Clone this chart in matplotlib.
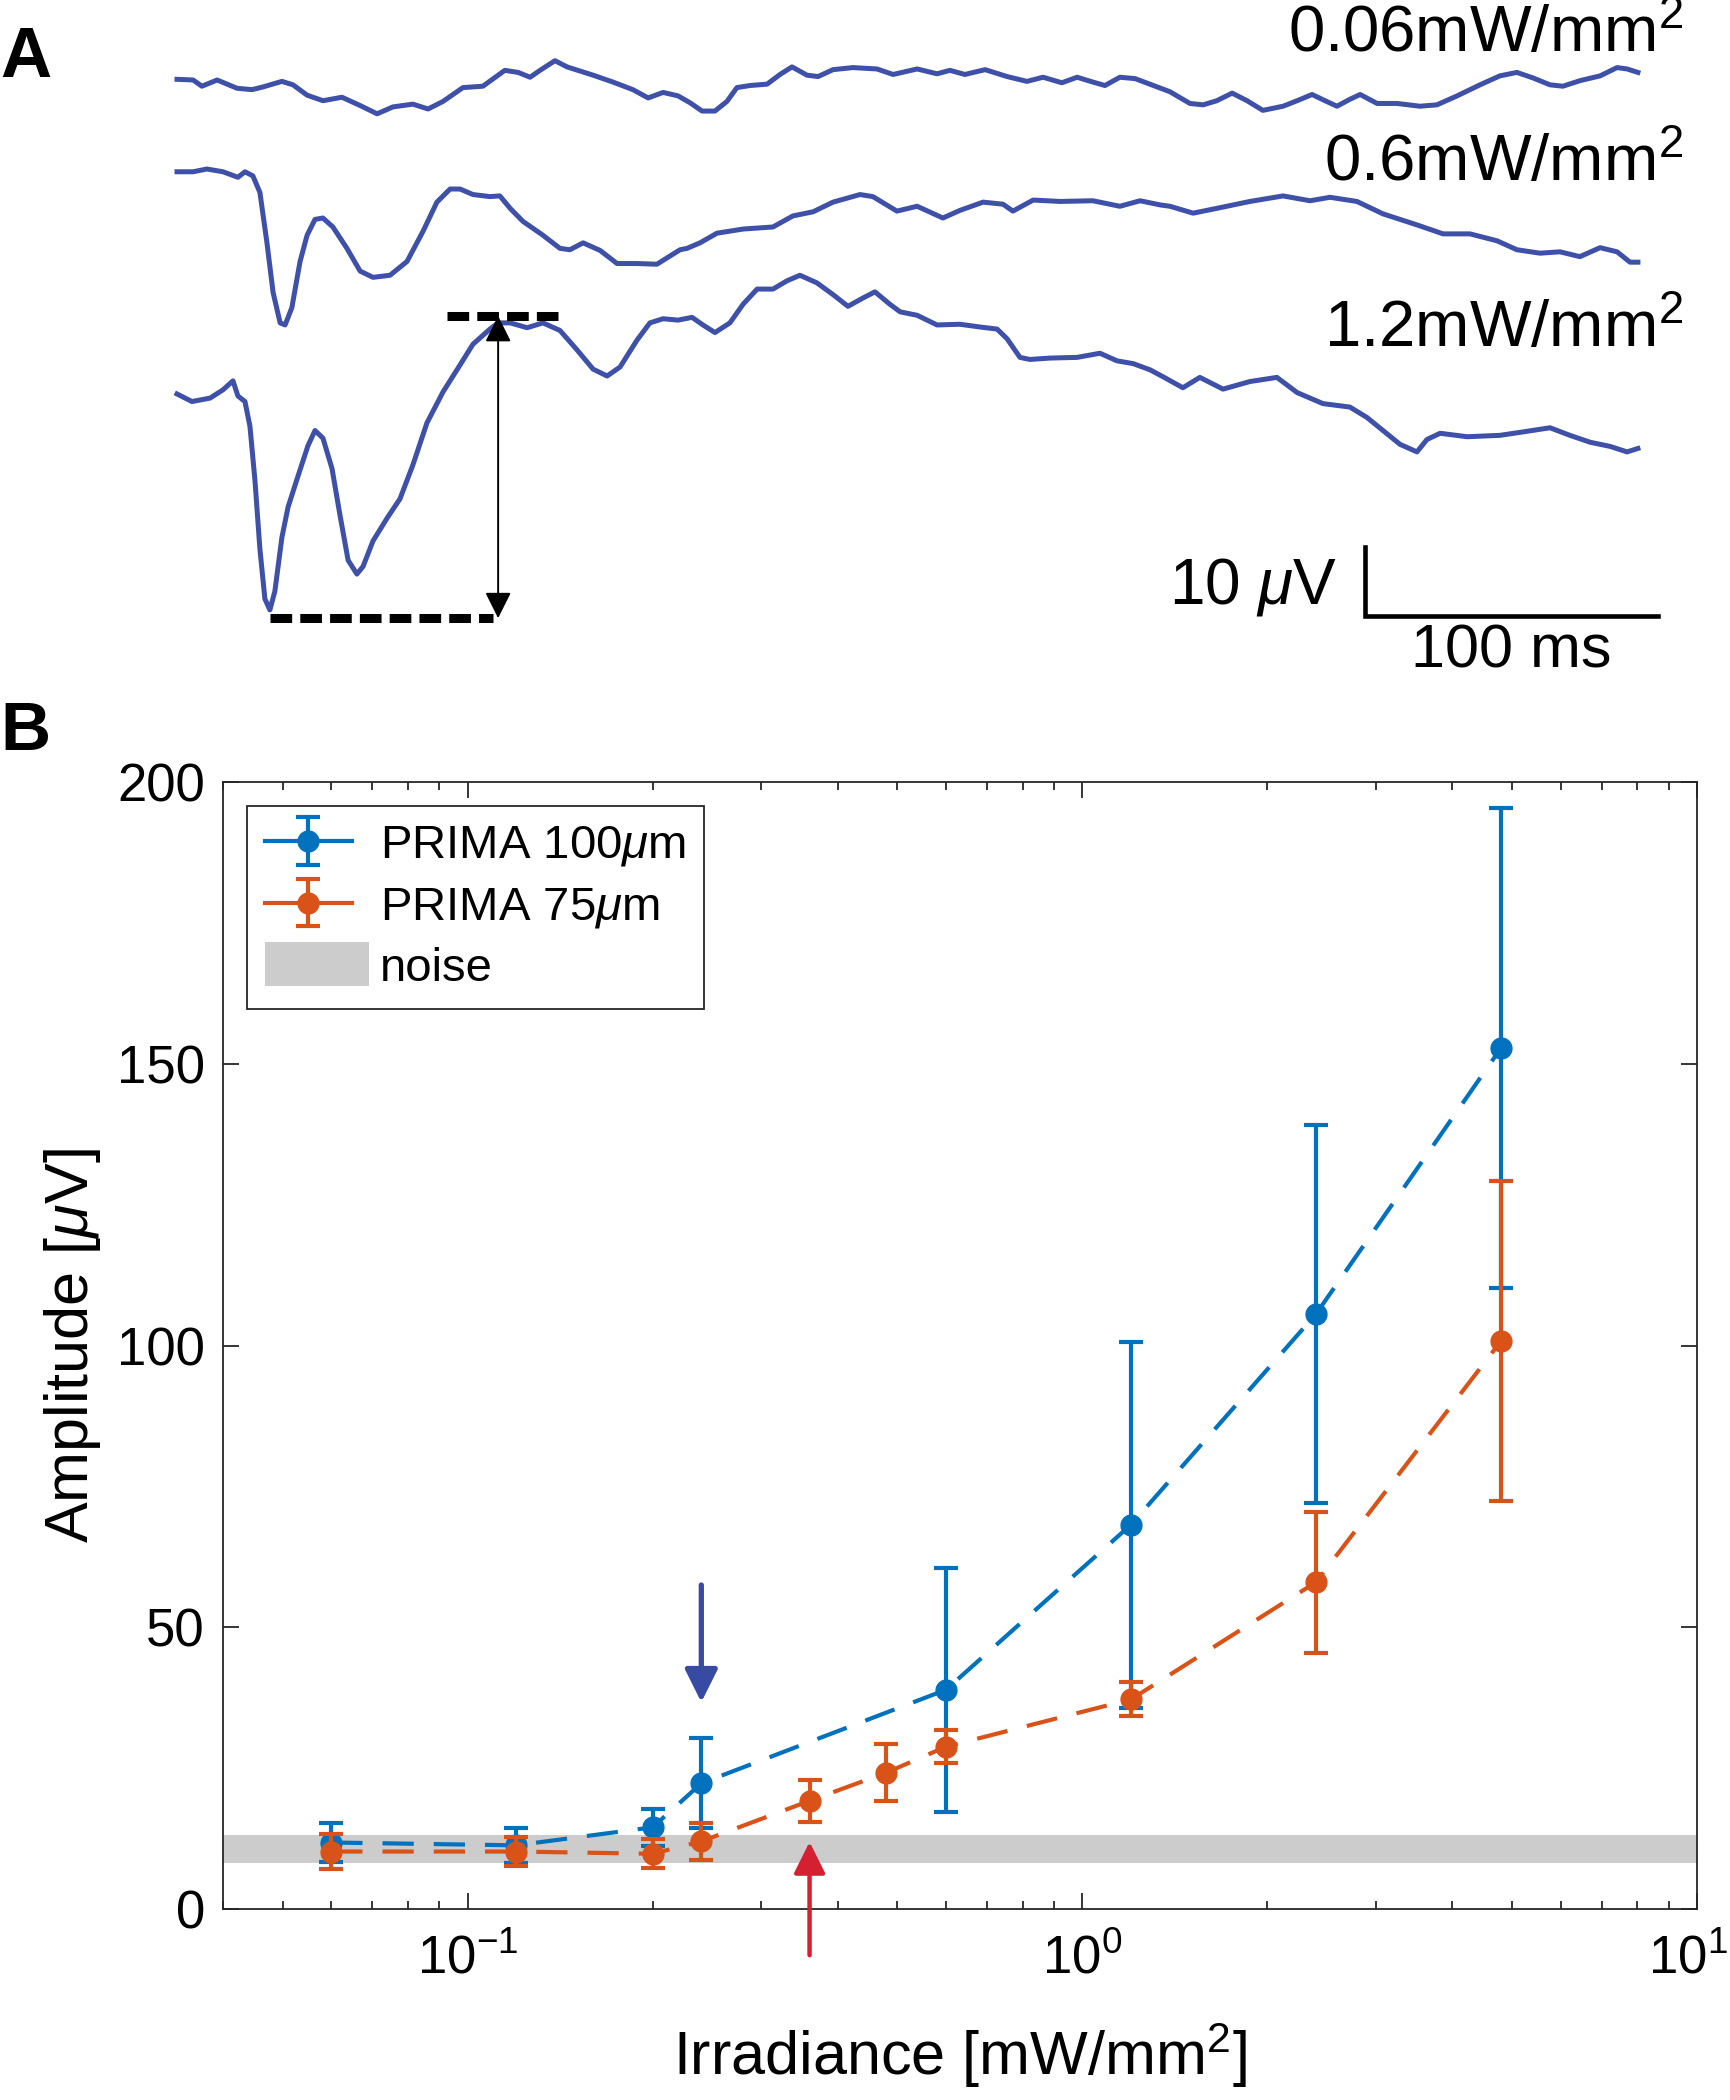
import numpy as np
import matplotlib
matplotlib.use("Agg")
import matplotlib.pyplot as plt
import matplotlib.transforms as mtransforms
from matplotlib.lines import Line2D
from matplotlib.patches import Rectangle
from matplotlib.container import ErrorbarContainer
from matplotlib.legend_handler import HandlerErrorbar, HandlerPatch

plt.rcParams['font.family'] = ['Liberation Sans', 'DejaVu Sans']
plt.rcParams['mathtext.fontset'] = 'custom'
plt.rcParams['mathtext.rm'] = 'Liberation Sans'
plt.rcParams['mathtext.it'] = 'Liberation Sans:italic'
plt.rcParams['mathtext.bf'] = 'Liberation Sans:bold'

# ---------------------------------------------------------
# Panel A - example traces: time [ms], amplitude [uV] (relative to trace start)
# ---------------------------------------------------------
t1 = [0, 5.5, 8.5, 13.7, 20.5, 25.6, 29.4, 35.8, 39.6, 44.4, 49.8, 56.3, 62.5, 68.3,
      73.7, 80.5, 85.7, 90.8, 97.6, 104.4, 111.9, 116.4, 120.5, 123.9, 129.0, 133.1,
      142.0, 148.8, 155.6, 160.8, 165.9, 171.0, 175.1, 179.2, 183.6, 187.7, 191.1,
      195.6, 201.4, 205.8, 209.9, 215.0, 218.8, 223.9, 230.7, 238.9, 244.4, 252.6,
      259.4, 263.8, 268.9, 275.8, 283.3, 290.1, 295.6, 302.0, 307.2, 312.6, 316.7,
      321.8, 327.0, 334.5, 338.9, 345.7, 350.2, 354.9, 360.1, 365.2, 370.6, 377.5,
      382.3, 387.4, 391.8, 395.9, 400.3, 403.8, 409.6, 416.4, 424.2, 430.0, 436.9,
      444.7, 451.5, 457.3, 462.8, 468.6, 473.0, 478.8, 485.7, 491.5, 494.9, 498.6]
v1 = [0.1, 0.0, -0.9, 0.0, -1.2, -1.4, -1.0, -0.2, -0.7, -2.2, -3.0, -2.5, -3.7, -4.9,
      -3.9, -3.5, -4.2, -3.1, -1.1, -0.9, 1.4, 1.1, 0.4, 1.4, 2.8, 1.9,
      0.7, -0.3, -1.4, -2.6, -1.8, -2.3, -3.3, -4.5, -4.5, -3.1, -1.1,
      -0.8, -0.6, 0.8, 1.9, 0.7, 0.5, 1.5, 1.8, 1.6, 0.8, 1.6,
      0.9, 1.4, 0.8, 1.5, 0.5, -0.2, 0.4, -0.4, 0.4, -0.3, -0.8,
      0.4, 0.2, -1.0, -1.7, -3.4, -3.6, -3.0, -1.9, -3.0, -4.4, -3.8,
      -3.0, -2.1, -3.0, -3.8, -2.8, -2.1, -3.4, -3.4, -3.8, -3.6, -2.3,
      -0.7, 0.6, 1.1, 0.3, -0.7, -0.9, -0.1, 0.6, 1.8, 1.6, 1.1]

t2 = [0, 5.5, 10.2, 15.7, 20.8, 23.2, 25.9, 28.3, 30.7, 32.8, 35.2, 36.9, 39.2, 42.0,
      44.4, 47.1, 49.8, 53.2, 58.0, 62.5, 66.9, 72.7, 78.5, 84.0, 88.7, 93.2, 96.6,
      101.0, 106.8, 110.2, 113.7, 118.1, 124.9, 130.7, 134.1, 138.6, 144.4, 150.2,
      157.0, 163.8, 168.3, 171.7, 174.1, 178.5, 184.3, 193.2, 203.4, 210.2, 217.1,
      223.9, 233.1, 237.5, 245.7, 252.6, 261.4, 267.2, 275.1, 281.9, 285.3, 292.2,
      301.4, 312.6, 321.8, 328.7, 335.5, 338.9, 346.8, 354.9, 366.2, 377.5, 386.7,
      393.5, 402.7, 411.6, 423.2, 432.1, 441.3, 450.5, 457.3, 465.2, 472.0, 478.8,
      485.7, 491.5, 495.9, 498.6]
v2 = [0, 0, 0.4, 0, -0.8, 0, -0.6, -3.0, -10.3, -17.5, -21.9, -22.2, -19.7, -13.0,
      -9.2, -6.9, -6.7, -8.0, -11.1, -14.4, -15.3, -15.0, -13.0, -8.6, -4.4, -2.5, -2.5,
      -3.3, -3.6, -3.5, -5.3, -7.2, -9.2, -11.1, -11.3, -10.3, -11.4, -13.3,
      -13.3, -13.4, -12.2, -11.3, -11.1, -10.3, -8.9, -8.3, -8.0, -6.4, -5.8,
      -4.4, -3.3, -3.6, -5.7, -5.0, -6.7, -5.6, -4.4, -4.7, -5.7, -4.1,
      -4.3, -4.2, -5.0, -4.2, -4.8, -5.0, -6.0, -5.3, -4.3, -3.5, -4.2,
      -3.7, -4.3, -6.1, -7.7, -9.0, -9.0, -10.0, -11.3, -11.8, -11.6, -12.3,
      -11.0, -11.6, -13.1, -13.1]

t3 = [0, 5.1, 11.3, 15.7, 19.1, 20.8, 23.2, 24.9, 26.6, 28.3, 30.0, 31.7, 33.4, 35.8,
      37.9, 41.3, 44.7, 47.1, 49.8, 52.9, 55.6, 58.4, 61.4, 63.5, 66.9, 71.7, 76.1,
      80.5, 85.3, 90.8, 96.6, 101.0, 106.8, 109.6, 113.7, 119.5, 124.9, 130.7, 136.5,
      142.0, 146.8, 151.2, 157.0, 161.4, 165.9, 171.0, 175.8, 179.5, 183.6, 188.7,
      193.2, 198.0, 203.4, 208.2, 212.6, 218.4, 223.9, 229.0, 234.1, 238.2, 243.3,
      246.8, 252.6, 259.4, 267.2, 274.1, 279.9, 283.3, 287.7, 291.1, 298.0, 307.2,
      315.0, 320.8, 326.3, 332.1, 336.5, 343.3, 349.1, 357.0, 366.2, 375.4, 382.3,
      391.1, 400.3, 406.1, 411.6, 417.4, 423.2, 426.6, 431.1, 440.3, 451.5, 459.4,
      468.6, 475.4, 482.3, 489.1, 494.9, 498.6]
v3 = [0, -1.1, -0.6, 0.6, 1.9, -0.3, -1.1, -4.7, -12.5, -22.5, -29.7, -31.3, -28.6, -20.8,
      -16.4, -11.9, -7.5, -5.3, -6.4, -10.8, -17.5, -24.1, -26.1, -25.0, -21.3, -18.0, -15.2,
      -10.3, -4.2, 0.3, 4.2, 7.2, 9.4, 10.3, 10.3, 9.6, 10.3, 9.2, 6.4,
      3.6, 2.6, 3.9, 7.8, 10.3, 10.9, 10.7, 11.1, 10.0, 8.9, 10.3,
      13.0, 15.2, 15.2, 16.4, 17.2, 16.1, 14.4, 12.7, 13.9, 14.8, 13.0,
      11.9, 11.4, 10.0, 10.1, 9.7, 9.4, 8.0, 5.3, 5.0, 5.2, 5.3,
      5.9, 4.8, 4.4, 3.5, 2.5, 0.9, 2.4, 0.7, 1.8, 2.4, 0.2,
      -1.4, -1.9, -3.4, -5.3, -7.3, -8.4, -6.6, -5.7, -6.2, -6.0, -5.5,
      -4.9, -6.0, -7.0, -7.6, -8.4, -7.9]

trace_labels = ['0.06mW/mm$^2$', '0.6mW/mm$^2$', '1.2mW/mm$^2$']
trace_offsets = [0.0, -13.3, -45.5]       # vertical stacking [uV]
label_y = [4.0, -14.6, -38.7]             # label baselines [uV]

# peak-to-trough measurement on the 1.2 mW/mm2 trace
peak_t, peak_v = 109.6, 11.3
trough_t, trough_v = 31.7, -32.5
peak_line_t = [92.2, 130.0]

# scale bar
bar_ms = 100
bar_uv = 10
bar_t0, bar_v0 = 405.5, -77.7

# ---------------------------------------------------------
# Panel B - amplitude vs irradiance
# ---------------------------------------------------------
irr_100 = [0.06, 0.12, 0.2, 0.24, 0.6, 1.2, 2.4, 4.8]
amp_100 = [11.8, 11.3, 14.5, 22.3, 38.9, 68.2, 105.6, 152.8]
err_100 = [3.5, 3.1, 3.3, 8.0, 21.6, 32.5, 33.5, 42.6]

irr_75 = [0.06, 0.12, 0.2, 0.24, 0.36, 0.48, 0.6, 1.2, 2.4, 4.8]
amp_75 = [10.2, 10.2, 9.8, 12.0, 19.2, 24.2, 28.8, 37.2, 58.0, 100.8]
err_75 = [3.1, 2.6, 2.6, 3.3, 3.7, 5.0, 2.9, 3.0, 12.5, 28.4]

noise_lo, noise_hi = 8.2, 13.1
thr_100 = 0.24      # blue arrow
thr_75 = 0.36       # red arrow

x_major = [0.1, 1, 10]
y_major = [0, 50, 100, 150, 200]

c_blue = '#0072BD'
c_orange = '#D95319'
c_trace = '#3e50a8'
c_axis = '#262626'

W, H = 1731, 2100
fig = plt.figure(figsize=(W / 100, H / 100), dpi=100)

# ---------------- panel A ----------------
px_ms, px_uv = 2.93, 6.9
t0_px, base_px, panel_h = 177, 80, 700
axA = fig.add_axes([0, 1 - panel_h / H, 1, panel_h / H])
axA.set_xlim(-t0_px / px_ms, (W - t0_px) / px_ms)
axA.set_ylim(-(panel_h - base_px) / px_uv, base_px / px_uv)
axA.axis('off')

for t, v, off in zip([t1, t2, t3], [v1, v2, v3], trace_offsets):
    axA.plot(t, np.array(v) + off, color=c_trace, lw=3.6, solid_joinstyle='round')

for lab, y in zip(trace_labels, label_y):
    axA.text(514, y, lab, ha='right', va='baseline', fontsize=47)

off3 = trace_offsets[2]
axA.plot(peak_line_t, [peak_v + off3] * 2, color='black', lw=6.5, dashes=(2.4, 0.9))
axA.plot([trough_t, peak_t - 1.8], [trough_v + off3] * 2, color='black', lw=6.5,
         dashes=(2.4, 0.9))
axA.annotate('', xy=(peak_t, peak_v + off3), xytext=(peak_t, trough_v + off3),
             arrowprops=dict(arrowstyle='<|-|>', color='black', lw=1.4,
                             mutation_scale=40, shrinkA=0, shrinkB=0))

axA.plot([bar_t0, bar_t0, bar_t0 + bar_ms], [bar_v0 + bar_uv, bar_v0, bar_v0],
         color='black', lw=3.3, solid_joinstyle='miter')
axA.text(bar_t0 - 9.5, bar_v0 + 1.9, '10 $\\mu$V', ha='right', va='baseline', fontsize=46)
axA.text(bar_t0 + bar_ms / 2, bar_v0 - 7.4, '100 ms', ha='center', va='baseline', fontsize=44)

fig.text(0.0, 1 - 77 / H, 'A', fontsize=51, fontweight='bold', va='baseline')
fig.text(0.0, 1 - 750 / H, 'B', fontsize=50, fontweight='bold', va='baseline')

# ---------------- panel B ----------------
axB = fig.add_axes([223 / W, 1 - 1909 / H, (1697 - 223) / W, (1909 - 782) / H])

band = axB.axhspan(noise_lo, noise_hi, facecolor='#cccccc', edgecolor='none', zorder=1)

eb1 = axB.errorbar(irr_100, amp_100, yerr=err_100, fmt='--o', color=c_blue, lw=3.0,
                   ms=15, capsize=8.5, capthick=3.0, elinewidth=3.0, zorder=3)
eb1[0].set_dashes((7.5, 4.8))
eb2 = axB.errorbar(irr_75, amp_75, yerr=err_75, fmt='--o', color=c_orange, lw=3.0,
                   ms=15, capsize=8.5, capthick=3.0, elinewidth=3.0, zorder=4)
eb2[0].set_dashes((7.5, 4.8))

axB.annotate('', xy=(thr_100, 36.7), xytext=(thr_100, 57.5),
             arrowprops=dict(arrowstyle='-|>', color='#374ba5', lw=3.8,
                             mutation_scale=50, shrinkA=0, shrinkB=0), zorder=6)
axB.annotate('', xy=(thr_75, 11.9), xytext=(thr_75, -8.2), annotation_clip=False,
             arrowprops=dict(arrowstyle='-|>', color='#d42030', lw=3.2,
                             mutation_scale=48, shrinkA=0, shrinkB=0, clip_on=False),
             zorder=6)

axB.set_xscale('log')
axB.set_xlim(0.04, 10)
axB.set_ylim(0, 200)
axB.set_xticks(x_major)
axB.set_yticks(y_major)
axB.tick_params(which='both', direction='in', top=True, right=True, width=1.3,
                color=c_axis, labelsize=38)
axB.tick_params(which='major', length=11.5)
axB.tick_params(which='minor', length=5.8)
axB.tick_params(axis='x', pad=18)
axB.tick_params(axis='y', pad=13)
for s in axB.spines.values():
    s.set_linewidth(1.3)
    s.set_color(c_axis)
    s.set_zorder(5)

# pull the last x label (10^1) slightly inside the figure
last = axB.xaxis.get_major_ticks()[-1].label1
last.set_transform(last.get_transform() +
                   mtransforms.ScaledTranslation(-0.09, 0, fig.dpi_scale_trans))

axB.set_xlabel('Irradiance [mW/mm$^2$]', fontsize=44, labelpad=26)
axB.set_ylabel('Amplitude [$\\mu$V]', fontsize=44, labelpad=10)


class SolidErrorbar(HandlerErrorbar):
    # legend icon uses a solid line like the original figure
    def create_artists(self, legend, orig_handle, xdescent, ydescent, width, height,
                       fontsize, trans):
        arts = super().create_artists(legend, orig_handle, xdescent, ydescent, width,
                                      height, fontsize, trans)
        for a in arts:
            if isinstance(a, Line2D) and a.get_linestyle() not in ('None', ''):
                a.set_linestyle('-')
        return arts


def noise_icon(legend, orig_handle, xdescent, ydescent, width, height, fontsize):
    h = 0.94 * fontsize
    return Rectangle((-xdescent, -ydescent + height / 2 - h / 2), width * 1.2, h)


leg = axB.legend([eb1, eb2, band], ['PRIMA 100$\\mu$m', 'PRIMA 75$\\mu$m', 'noise'],
                 loc='upper left', fontsize=34, fancybox=False, framealpha=1,
                 edgecolor=c_axis, handlelength=1.85, handletextpad=0.6,
                 borderaxespad=0.5, labelspacing=0.36, borderpad=0.38,
                 handler_map={ErrorbarContainer: SolidErrorbar(),
                              band: HandlerPatch(patch_func=noise_icon)})
leg.get_frame().set_linewidth(1.3)
leg.set_zorder(7)

fig.savefig('out.png', dpi=100)
